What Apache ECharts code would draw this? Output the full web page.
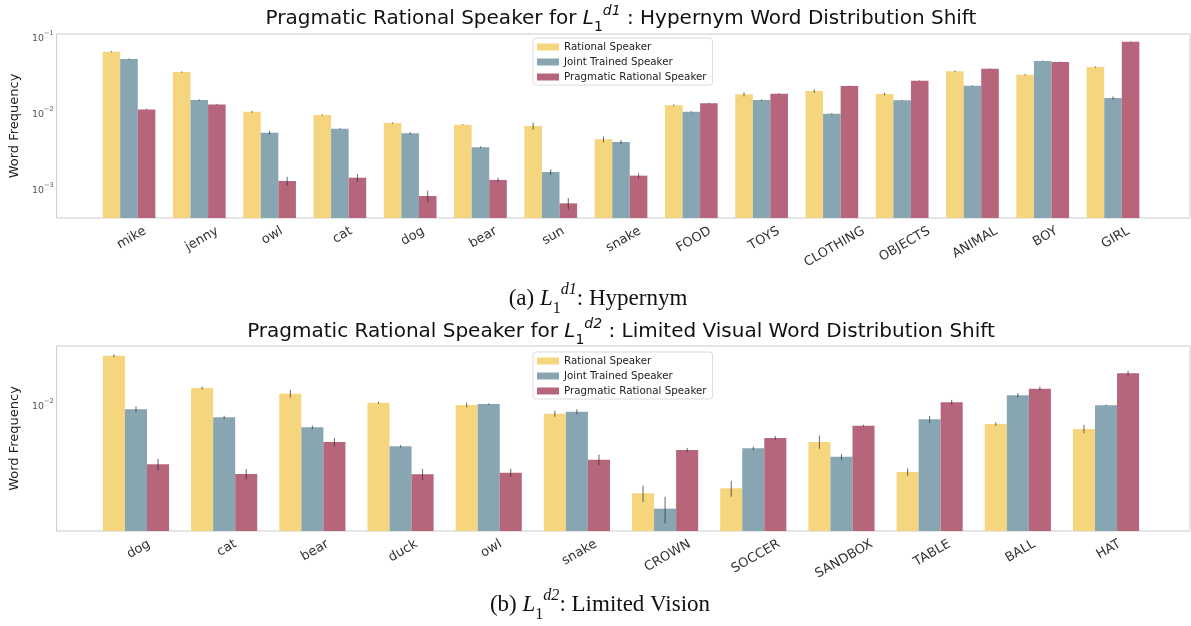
<!DOCTYPE html>
<html>
<head>
<meta charset="utf-8">
<script src="https://cdn.jsdelivr.net/npm/echarts@6/dist/echarts.min.js"></script>
<style>
  html, body { margin: 0; padding: 0; background: #fff; }
  #chart { width: 1191px; height: 626px; }
</style>
</head>
<body>
<div id="chart"></div>
<script>
// ---- data: (a) hypernym shift ----
const catsA = ['mike', 'jenny', 'owl', 'cat', 'dog', 'bear', 'sun', 'snake', 'FOOD', 'TOYS', 'CLOTHING', 'OBJECTS', 'ANIMAL', 'BOY', 'GIRL']
const rationalA = [0.0634, 0.0342, 0.0102, 0.00927, 0.00727, 0.0069, 0.00663, 0.00443, 0.01245, 0.01738, 0.01921, 0.01754, 0.03496, 0.03153, 0.0398]
const jointA = [0.0508, 0.0146, 0.00542, 0.00611, 0.00532, 0.00347, 0.00164, 0.00408, 0.0102, 0.01461, 0.00964, 0.01449, 0.02257, 0.04779, 0.01553]
const pragA = [0.011, 0.0128, 0.00125, 0.00138, 0.000791, 0.00129, 0.000634, 0.00147, 0.01322, 0.0177, 0.02237, 0.02628, 0.03784, 0.04636, 0.0859]
const rationalErrA = [0.0012, 0.0006, 0.0003, 0.0002, 0.00015, 0.0001, 0.0007, 0.0004, 0.0003, 0.0011, 0.001, 0.0007, 0.0007, 0.0006, 0.0008]
const jointErrA = [0.0008, 0.0003, 0.0003, 0.0001, 0.0002, 0.0001, 0.00014, 0.00025, 0.0002, 0.0003, 0.0002, 0.0002, 0.0003, 0.0006, 0.0008]
const pragErrA = [0.0002, 0.0002, 0.00017, 0.00016, 0.00014, 0.00009, 0.00011, 0.00011, 0.0002, 0.0003, 0.0003, 0.0003, 0.0004, 0.0005, 0.0008]

// ---- data: (b) limited vision shift ----
const catsB = ['dog', 'cat', 'bear', 'duck', 'owl', 'snake', 'CROWN', 'SOCCER', 'SANDBOX', 'TABLE', 'BALL', 'HAT']
const rationalB = [0.02132, 0.01298, 0.0119, 0.01036, 0.01, 0.00875, 0.002578, 0.002784, 0.00567, 0.003576, 0.00747, 0.00692]
const jointB = [0.00936, 0.00828, 0.0071, 0.0053, 0.01015, 0.00902, 0.002036, 0.005143, 0.00452, 0.00803, 0.01161, 0.009954]
const pragB = [0.00402, 0.00347, 0.00567, 0.00345, 0.00354, 0.00432, 0.005012, 0.006026, 0.00728, 0.01042, 0.01284, 0.01627]
const rationalErrB = [0.00046, 0.00026, 0.0007, 0.00015, 0.00036, 0.0004, 0.00032, 0.00034, 0.00057, 0.0002, 0.0002, 0.00044]
const jointErrB = [0.0004, 0.0002, 0.0002, 0.0001, 0.0001, 0.00034, 0.00041, 0.00014, 0.00019, 0.00042, 0.0004, 0.0001]
const pragErrB = [0.00035, 0.00027, 0.00036, 0.00029, 0.00022, 0.00034, 0.00016, 0.00018, 0.0001, 0.00038, 0.0004, 0.0006]

// axis limits (log)
const yRangeA = [4.06e-4, 0.1086]
const yRangeB = [1.445e-3, 0.02473]

const seriesNames = ['Rational Speaker', 'Joint Trained Speaker', 'Pragmatic Rational Speaker']
const colors = ['#f5d57e', '#87a6b2', '#b6657a']

const chart = echarts.init(document.getElementById('chart'))

// 测量文字宽度，让旋转后的标签顶端贴着坐标轴（类似 matplotlib 的 rotation=30）
const ctx = document.createElement('canvas').getContext('2d')
ctx.font = '13px "DejaVu Sans"'
function xLabelRich(cats) {
  const rich = {}
  cats.forEach((c, i) => {
    const w = ctx.measureText(c).width
    const d = 8 + (w * 0.5 + 13 * 0.866) / 2
    rich['l' + i] = {
      fontSize: 13,
      fontFamily: 'DejaVu Sans',
      color: '#333',
      padding: [d * 1.732, d - 6, 0, 0],
    }
  })
  return rich
}

function logLabel(val) {
  const l = Math.log10(val)
  const r = Math.round(l)
  if (Math.abs(l - r) > 1e-6) return ''
  return '{b|10}{s|\u2212' + Math.abs(r) + '}'
}

const logRich = {
  b: { fontSize: 9.5, fontFamily: 'DejaVu Sans', color: '#555', verticalAlign: 'bottom', lineHeight: 14 },
  s: { fontSize: 6.5, fontFamily: 'DejaVu Sans', color: '#555', verticalAlign: 'top', lineHeight: 14 },
}

function frameY(range, gridIndex) {
  return {
    type: 'log',
    gridIndex,
    min: range[0],
    max: range[1],
    name: 'Word Frequency',
    nameLocation: 'middle',
    nameGap: 26,
    nameTextStyle: { fontSize: 13, fontFamily: 'DejaVu Sans', color: '#222' },
    axisLine: { show: false },
    axisTick: { show: false },
    splitLine: { show: false },
    axisLabel: { margin: 3, formatter: logLabel, rich: logRich },
  }
}

function hiddenY(range, gridIndex) {
  return { type: 'log', gridIndex, min: range[0], max: range[1], show: false, splitLine: { show: false } }
}

function catX(cats, gridIndex) {
  return {
    type: 'category',
    gridIndex,
    data: cats,
    axisLine: { show: false },
    axisTick: { show: false },
    splitLine: { show: false },
    axisLabel: {
      interval: 0,
      rotate: 30,
      margin: 0,
      align: 'center',
      verticalAlign: 'middle',
      hideOverlap: false,
      formatter: (val, idx) => '{l' + idx + '|' + val + '}',
      rich: xLabelRich(cats),
    },
  }
}

// 柱子 + 误差线（custom series，坐标全部走 api.coord）
function barSeries(name, k, values, errs, xi) {
  return {
    name,
    type: 'custom',
    xAxisIndex: xi,
    yAxisIndex: xi,
    itemStyle: { color: colors[k] },
    data: values.map((v, i) => [i, v, errs[i]]),
    encode: { x: 0, y: 1 },
    renderItem: (params, api) => {
      const i = api.value(0)
      const v = api.value(1)
      const e = api.value(2)
      const band = api.coord([1, v])[0] - api.coord([0, v])[0]
      const bw = band * 0.25
      const top = api.coord([i, v])
      const base = params.coordSys.y + params.coordSys.height
      const cx = top[0] + (k - 1) * bw
      const hi = api.coord([i, v + e])[1]
      const lo = api.coord([i, Math.max(v - e, 1e-9)])[1]
      return {
        type: 'group',
        children: [
          {
            type: 'rect',
            shape: { x: cx - bw / 2, y: top[1], width: bw, height: base - top[1] },
            style: { fill: api.visual('color') },
          },
          {
            type: 'line',
            shape: { x1: cx, y1: hi, x2: cx, y2: lo },
            style: { stroke: '#333', lineWidth: 1, opacity: 0.75 },
          },
        ],
      }
    },
  }
}

function mathTitle(prefix, sup, suffix, family, size) {
  const base = { fontSize: size, fontFamily: family, fontWeight: 'normal', color: '#111', lineHeight: size * 1.5 }
  const small = { fontSize: size * 0.7, fontFamily: family, fontWeight: 'normal', color: '#111', lineHeight: size * 0.9 }
  return {
    text: '{t|' + prefix + '}{i|L}{sub|1}{sup|' + sup + '}{t|' + suffix + '}',
    textStyle: {
      fontWeight: 'normal',
      rich: {
        t: Object.assign({ verticalAlign: 'middle' }, base),
        i: Object.assign({ fontStyle: 'italic' }, base),
        sub: Object.assign({ verticalAlign: 'bottom' }, small),
        sup: Object.assign({ verticalAlign: 'top', fontStyle: 'italic' }, small),
      },
    },
  }
}

const legendBase = {
  data: seriesNames,
  left: 533,
  orient: 'vertical',
  icon: 'rect',
  itemWidth: 22,
  itemHeight: 7,
  itemGap: 5,
  padding: [4, 6, 3, 4],
  backgroundColor: '#fff',
  borderColor: '#dcdcdc',
  borderWidth: 1,
  borderRadius: 3,
  textStyle: { fontSize: 10.3, fontFamily: 'DejaVu Sans', color: '#222' },
}

chart.setOption({
  animation: false,
  title: [
    Object.assign(mathTitle('Pragmatic Rational Speaker for ', 'd1', ' : Hypernym Word Distribution Shift', 'DejaVu Sans', 20), { left: 621, top: 4, textAlign: 'center', padding: 0 }),
    Object.assign(mathTitle('Pragmatic Rational Speaker for ', 'd2', ' : Limited Visual Word Distribution Shift', 'DejaVu Sans', 20), { left: 621, top: 317, textAlign: 'center', padding: 0 }),
    Object.assign(mathTitle('(a) ', 'd1', ': Hypernym', 'Liberation Serif', 23), { left: 598, top: 282, textAlign: 'center', padding: 0 }),
    Object.assign(mathTitle('(b) ', 'd2', ': Limited Vision', 'Liberation Serif', 23), { left: 600, top: 588, textAlign: 'center', padding: 0 }),
  ],
  legend: [
    Object.assign({ top: 38 }, legendBase),
    Object.assign({ top: 352 }, legendBase),
  ],
  grid: [
    { left: 52, width: 1138, top: 34, height: 184, show: true, borderColor: '#cccccc', borderWidth: 1, backgroundColor: 'transparent' },
    { left: 93.86, width: 1054.3, top: 34, height: 184 },
    { left: 52, width: 1138, top: 346, height: 185, show: true, borderColor: '#cccccc', borderWidth: 1, backgroundColor: 'transparent' },
    { left: 91.9, width: 1058.2, top: 346, height: 185 },
  ],
  xAxis: [
    { type: 'value', gridIndex: 0, show: false, min: 0, max: 1, splitLine: { show: false } },
    catX(catsA, 1),
    { type: 'value', gridIndex: 2, show: false, min: 0, max: 1, splitLine: { show: false } },
    catX(catsB, 3),
  ],
  yAxis: [
    frameY(yRangeA, 0),
    hiddenY(yRangeA, 1),
    frameY(yRangeB, 2),
    hiddenY(yRangeB, 3),
  ],
  series: [
    barSeries(seriesNames[0], 0, rationalA, rationalErrA, 1),
    barSeries(seriesNames[1], 1, jointA, jointErrA, 1),
    barSeries(seriesNames[2], 2, pragA, pragErrA, 1),
    barSeries(seriesNames[0], 0, rationalB, rationalErrB, 3),
    barSeries(seriesNames[1], 1, jointB, jointErrB, 3),
    barSeries(seriesNames[2], 2, pragB, pragErrB, 3),
  ],
})
</script>
</body>
</html>
